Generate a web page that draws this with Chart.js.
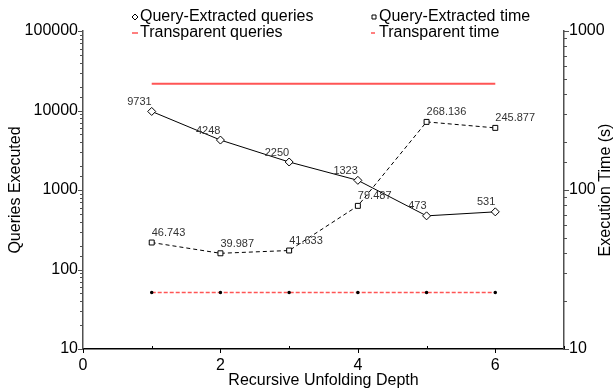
<!DOCTYPE html>
<html>
<head>
<meta charset="utf-8">
<script src="https://cdn.jsdelivr.net/npm/chart.js@4.4.0/dist/chart.umd.min.js"></script>
<style>
  body { margin: 0; background: #fff; }
  #chart { display: block; }
</style>
</head>
<body>
<canvas id="chart" width="614" height="390"></canvas>
<script>
// values
const depths = [1, 2, 3, 4, 5, 6];
const qeQueries = [9731, 4248, 2250, 1323, 473, 531];
const trQueries = [21700, 21700, 21700, 21700, 21700, 21700];
const qeTime = [46.743, 39.987, 41.633, 79.487, 268.136, 245.877];
const trTime = [22.7, 22.7, 22.7, 22.7, 22.7, 22.7];

const FONT = "'Liberation Sans', Arial, sans-serif";
const RED = '#ff5555';
const AXIS = '#505050';

const pts = vals => depths.map((d, i) => ({ x: d, y: vals[i] }));
const isDecade = v => Math.abs(Math.log10(v) - Math.round(Math.log10(v))) < 1e-9;

// legend, tick marks, y titles (both read bottom-to-top) and value labels
const extras = {
  id: 'extras',
  afterDraw(chart) {
    const ctx = chart.ctx;
    const area = chart.chartArea;
    ctx.save();

    // tick marks
    ctx.strokeStyle = AXIS;
    ctx.lineWidth = 1;
    const yl = chart.scales.y, yr = chart.scales.y1, xs = chart.scales.x;
    ctx.beginPath();
    yl.ticks.forEach(t => {
      const y = Math.round(yl.getPixelForValue(t.value)) + 0.5;
      ctx.moveTo(area.left, y);
      ctx.lineTo(area.left - (isDecade(t.value) ? 5 : 3), y);
    });
    yr.ticks.forEach(t => {
      const y = Math.round(yr.getPixelForValue(t.value)) + 0.5;
      ctx.moveTo(area.right, y);
      ctx.lineTo(area.right + (isDecade(t.value) ? 5 : 3), y);
    });
    ctx.stroke();
    ctx.strokeStyle = '#000';
    ctx.beginPath();
    xs.ticks.forEach(t => {
      const x = Math.round(xs.getPixelForValue(t.value)) + 0.5;
      ctx.moveTo(x, area.bottom);
      // labelled ticks point down, the others point up into the plot
      ctx.lineTo(x, area.bottom + (t.value % 2 === 0 ? 4 : -3));
    });
    ctx.stroke();

    // y axis titles
    ctx.font = '16px ' + FONT;
    ctx.fillStyle = '#000';
    ctx.textAlign = 'center';
    ctx.textBaseline = 'middle';
    const midY = (area.top + area.bottom) / 2;
    [['Queries Executed', 16], ['Execution Time (s)', 606]].forEach(([txt, x]) => {
      ctx.save();
      ctx.translate(x, midY);
      ctx.rotate(-Math.PI / 2);
      ctx.fillText(txt, 0, 0);
      ctx.restore();
    });

    // value labels
    ctx.font = '11px ' + FONT;
    ctx.fillStyle = '#333';
    ctx.textBaseline = 'bottom';
    chart.data.datasets.forEach((ds, di) => {
      if (!ds.valueLabels) return;
      const meta = chart.getDatasetMeta(di);
      ctx.textAlign = ds.valueLabels === 'left' ? 'right' : 'left';
      meta.data.forEach((p, i) => {
        ctx.fillText(String(ds.data[i].y), p.x, p.y - 4);
      });
    });

    // legend
    const slots = [
      { x: 135, y: 17 }, { x: 374, y: 17 },
      { x: 135, y: 33 }, { x: 374, y: 33 }
    ];
    ctx.font = '16px ' + FONT;
    ctx.fillStyle = '#000';
    ctx.textAlign = 'left';
    ctx.textBaseline = 'middle';
    chart.data.datasets.forEach((ds, di) => {
      const s = slots[di];
      ctx.beginPath();
      if (ds.pointStyle === 'rectRot') {
        ctx.moveTo(s.x, s.y - 3); ctx.lineTo(s.x + 3, s.y);
        ctx.lineTo(s.x, s.y + 3); ctx.lineTo(s.x - 3, s.y); ctx.closePath();
        ctx.strokeStyle = '#000'; ctx.lineWidth = 1; ctx.stroke();
      } else if (ds.pointStyle === 'rect') {
        ctx.rect(s.x - 2, s.y - 2, 4, 4);
        ctx.strokeStyle = '#000'; ctx.lineWidth = 1; ctx.stroke();
      } else {
        ctx.setLineDash(ds.borderDash || []);
        ctx.moveTo(s.x - 3, s.y); ctx.lineTo(s.x + 3, s.y);
        ctx.strokeStyle = ds.borderColor; ctx.lineWidth = 1.5; ctx.stroke();
        ctx.setLineDash([]);
      }
      ctx.fillText(ds.label, s.x + 5, s.y);
    });
    ctx.restore();
  }
};

const yTicks = {
  color: '#000',
  font: { family: FONT, size: 16 },
  autoSkip: false,
  maxRotation: 0,
  padding: 5,
  callback: v => (isDecade(v) ? String(v) : '')
};

new Chart(document.getElementById('chart'), {
  type: 'line',
  data: {
    datasets: [
      {
        label: 'Query-Extracted queries',
        data: pts(qeQueries),
        yAxisID: 'y',
        borderColor: '#000', borderWidth: 1,
        pointStyle: 'rectRot', pointRadius: 4,
        pointBackgroundColor: '#fff', pointBorderColor: '#000', pointBorderWidth: 1,
        valueLabels: 'left'
      },
      {
        label: 'Query-Extracted time',
        data: pts(qeTime),
        yAxisID: 'y1',
        borderColor: '#000', borderWidth: 1, borderDash: [4, 3],
        pointStyle: 'rect', pointRadius: 3.5,
        pointBackgroundColor: '#fff', pointBorderColor: '#000', pointBorderWidth: 1,
        valueLabels: 'right'
      },
      {
        label: 'Transparent queries',
        data: pts(trQueries),
        yAxisID: 'y',
        borderColor: RED, borderWidth: 2,
        pointRadius: 0
      },
      {
        label: 'Transparent time',
        data: pts(trTime),
        yAxisID: 'y1',
        borderColor: RED, borderWidth: 1.5, borderDash: [4, 2],
        pointStyle: 'circle', pointRadius: 1,
        pointBackgroundColor: '#000', pointBorderColor: '#000'
      }
    ]
  },
  options: {
    responsive: false,
    animation: false,
    layout: { padding: { top: 31 } },
    plugins: { legend: { display: false }, tooltip: { enabled: false } },
    scales: {
      x: {
        type: 'linear',
        min: 0, max: 7,
        grid: { display: false, drawTicks: false },
        border: { display: true, color: '#000', width: 1.5 },
        ticks: {
          stepSize: 1, autoSkip: false, maxRotation: 0, padding: 7,
          color: '#000', font: { family: FONT, size: 16 },
          callback: v => (v % 2 === 0 ? String(v) : '')
        },
        title: {
          display: true, text: 'Recursive Unfolding Depth',
          color: '#000', font: { family: FONT, size: 16 }, padding: 0
        },
        afterFit: s => { s.height = 41; }
      },
      y: {
        type: 'logarithmic',
        position: 'left',
        min: 10, max: 100000,
        grid: { display: false, drawTicks: false },
        border: { display: true, color: AXIS, width: 1.5 },
        ticks: yTicks,
        afterFit: s => { s.width = 83; }
      },
      y1: {
        type: 'logarithmic',
        position: 'right',
        min: 10, max: 1000,
        grid: { display: false, drawTicks: false },
        border: { display: true, color: AXIS, width: 1.5 },
        ticks: Object.assign({}, yTicks, { padding: 5 }),
        afterFit: s => { s.width = 50; }
      }
    }
  },
  plugins: [extras]
});
</script>
</body>
</html>
